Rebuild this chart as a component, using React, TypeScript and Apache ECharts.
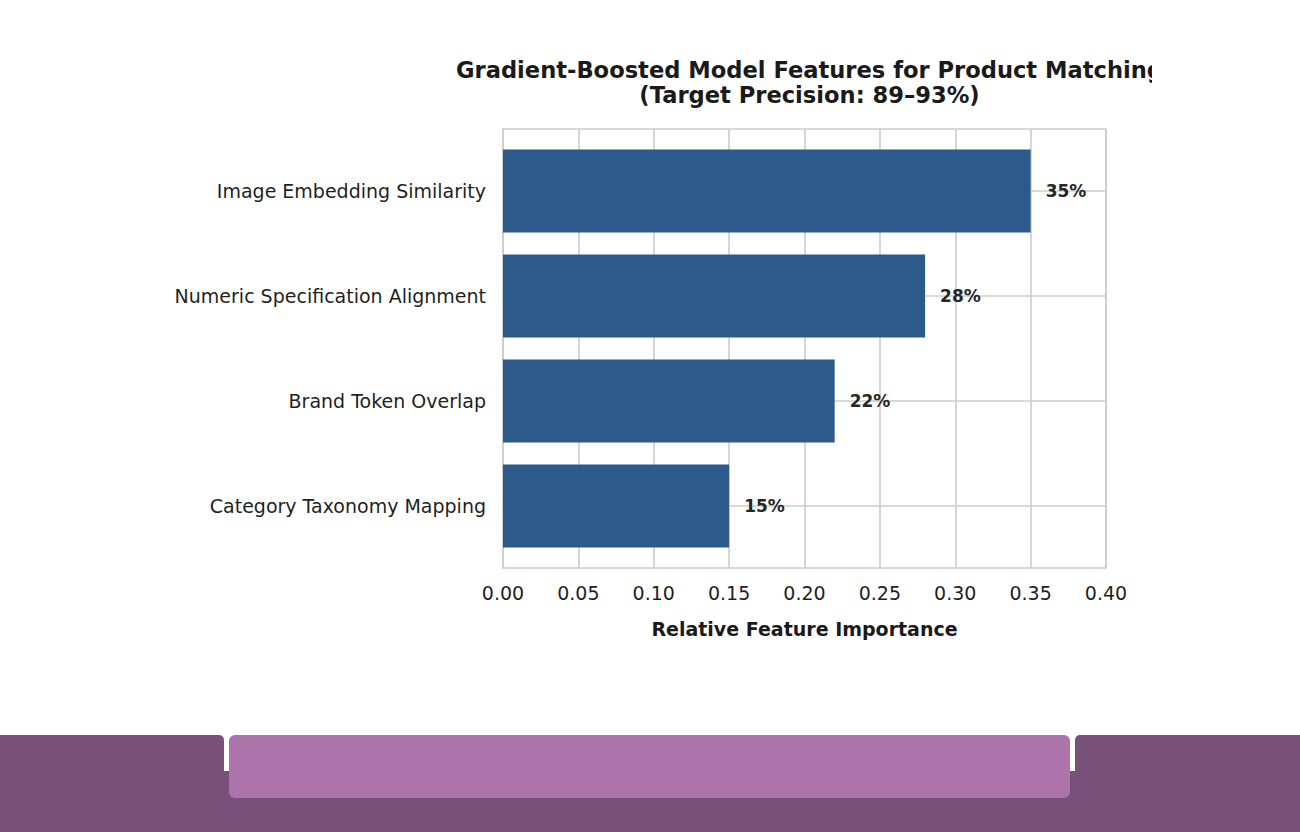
import React, { useEffect, useRef } from 'react';
import * as echarts from 'echarts';

const features = [
  'Image Embedding Similarity',
  'Numeric Specification Alignment',
  'Brand Token Overlap',
  'Category Taxonomy Mapping',
];
const importance = [0.35, 0.28, 0.22, 0.15];
const valueLabels = ['35%', '28%', '22%', '15%'];

const FONT = '"DejaVu Sans", "Liberation Sans", sans-serif';
const GRID_COLOR = '#cccccc';
const TEXT_COLOR = '#1f1f1f';

const App: React.FC = () => {
  const chartRef = useRef<HTMLDivElement>(null);

  useEffect(() => {
    if (!chartRef.current) return;
    const chart = echarts.init(chartRef.current, undefined, { renderer: 'svg' });

    const option: echarts.EChartsOption = {
      animation: false,
      textStyle: { fontFamily: FONT },
      title: {
        text: 'Gradient-Boosted Model Features for Product Matching\n(Target Precision: 89–93%)',
        left: 804.5,
        top: 52,
        textAlign: 'center',
        textStyle: {
          fontFamily: FONT,
          fontSize: 22.6,
          fontWeight: 'bold',
          color: '#1a1a1a',
          lineHeight: 25,
        },
      },
      grid: [
        // bars
        { left: 503, top: 138.5, width: 603, height: 420 },
        // frame + vertical grid
        { left: 503, top: 129, width: 603, height: 439, show: true, borderColor: GRID_COLOR, borderWidth: 1.6, backgroundColor: 'transparent' },
      ],
      xAxis: [
        {
          gridIndex: 0,
          type: 'value',
          min: 0,
          max: 0.4,
          interval: 0.05,
          show: false,
          splitLine: { show: false },
        },
        {
          gridIndex: 1,
          type: 'value',
          min: 0,
          max: 0.4,
          interval: 0.05,
          axisLine: { show: false },
          axisTick: { show: false },
          axisLabel: {
            margin: 15,
            fontSize: 19,
            color: TEXT_COLOR,
            fontFamily: FONT,
            formatter: (v: number) => v.toFixed(2),
          },
          splitLine: { show: true, lineStyle: { color: GRID_COLOR, width: 1.6 } },
          name: 'Relative Feature Importance',
          nameLocation: 'middle',
          nameGap: 51,
          nameTextStyle: { fontSize: 19, fontWeight: 'bold', color: '#1a1a1a', fontFamily: FONT },
        },
      ],
      yAxis: [
        {
          gridIndex: 0,
          type: 'category',
          data: features,
          inverse: true,
          axisLine: { show: false },
          axisTick: { show: false },
          splitLine: { show: false },
          axisLabel: { margin: 17, fontSize: 19, color: TEXT_COLOR, fontFamily: FONT },
        },
        {
          gridIndex: 1,
          type: 'category',
          data: features,
          inverse: true,
          show: false,
        },
      ],
      series: [
        {
          // horizontal grid lines at category centres, kept behind the bars
          type: 'line',
          xAxisIndex: 0,
          yAxisIndex: 0,
          data: [],
          z: 0,
          silent: true,
          markLine: {
            z: 0,
            silent: true,
            symbol: 'none',
            label: { show: false },
            lineStyle: { color: GRID_COLOR, width: 1.6, type: 'solid' },
            data: features.map(f => ({ yAxis: f })),
          },
        },
        {
          type: 'bar',
          xAxisIndex: 0,
          yAxisIndex: 0,
          z: 10,
          barWidth: 83,
          data: importance,
          itemStyle: { color: '#2c5b8b' },
          label: {
            show: true,
            position: 'right',
            distance: 15,
            fontSize: 17,
            fontWeight: 'bold',
            color: '#262626',
            fontFamily: FONT,
            formatter: (p: any) => valueLabels[p.dataIndex],
          },
        },
      ],
    };

    chart.setOption(option);
    return () => {
      chart.dispose();
    };
  }, []);

  const dark = '#79507a';
  const light = '#ad73ab';

  return (
    <div style={{ position: 'fixed', left: 0, top: 0, width: 1300, height: 832, background: '#ffffff', overflow: 'hidden' }}>
      <div ref={chartRef} style={{ position: 'absolute', left: 0, top: 0, width: 1152, height: 735 }} />
      {/* footer decoration */}
      <div style={{ position: 'absolute', left: 0, top: 771, width: 1300, height: 61, background: dark }} />
      <div style={{ position: 'absolute', left: 0, top: 735, width: 224, height: 97, background: dark, borderTopRightRadius: 5 }} />
      <div style={{ position: 'absolute', left: 1075, top: 735, width: 225, height: 97, background: dark, borderTopLeftRadius: 5 }} />
      <div style={{ position: 'absolute', left: 229, top: 735, width: 841, height: 63, background: light, borderRadius: 6 }} />
    </div>
  );
};

export default App;
